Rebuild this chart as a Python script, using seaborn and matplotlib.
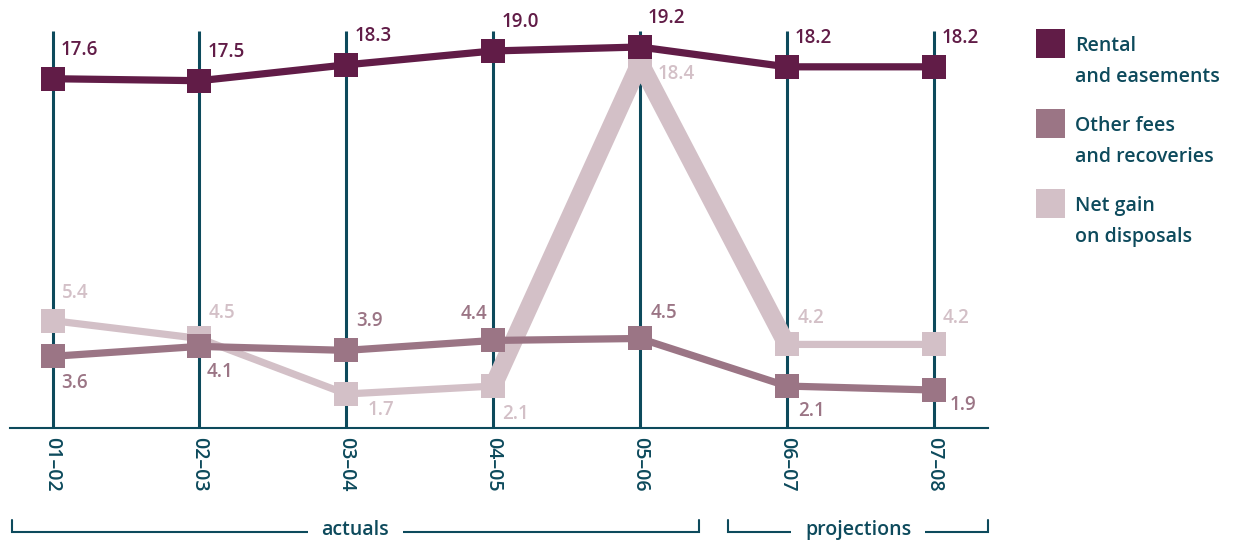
import numpy as np
import pandas as pd
import matplotlib
matplotlib.use("Agg")
import matplotlib.pyplot as plt
import seaborn as sns

# ---- data -------------------------------------------------------------
periods = ["01–02", "02–03", "03–04", "04–05", "05–06", "06–07", "07–08"]
rental = [17.6, 17.5, 18.3, 19.0, 19.2, 18.2, 18.2]
other_fees = [3.6, 4.1, 3.9, 4.4, 4.5, 2.1, 1.9]
net_gain = [5.4, 4.5, 1.7, 2.1, 18.4, 4.2, 4.2]
series_names = ["Rental and easements", "Other fees and recoveries", "Net gain on disposals"]
legend_lines = [("Rental", "and easements"),
                ("Other fees", "and recoveries"),
                ("Net gain", "on disposals")]
groups = ["actuals", "projections"]
group_sizes = [5, 2]

# ---- style ------------------------------------------------------------
colors = ["#611c47", "#9b7585", "#d3c0c7"]
teal = "#0d4a5c"
W, H = 1237, 542
PX = 72 / 100  # pixels -> points

# value-label offsets in pixels (dx, dy upward, horizontal alignment)
label_offsets = [
    [(8, 29, "left")] * 7,
    [(9, -27, "left"), (7, -26, "left"), (10, 29, "left"), (-6, 26, "right"),
     (11, 25, "left"), (11, -25, "left"), (16, -15, "left")],
    [(9, 28, "left"), (9, 25, "left"), (21, -16, "left"), (9, -28, "left"),
     (18, -11, "left"), (11, 26, "left"), (9, 26, "left")],
]

sns.set_theme(style="white")
plt.rcParams["font.family"] = ["Open Sans", "DejaVu Sans"]
plt.rcParams["font.weight"] = "semibold"

values = [rental, other_fees, net_gain]
df = pd.DataFrame({
    "period": periods * 3,
    "value": rental + other_fees + net_gain,
    "series": np.repeat(series_names, len(periods)),
})

fig = plt.figure(figsize=(W / 100, H / 100), dpi=100)
ax = fig.add_axes([10 / W, 114.3 / H, 978 / W, 427.7 / H])

# vertical guides at each period
ax.vlines(periods, 0, 20, color=teal, lw=2.2, zorder=1)

# the jump in disposals is drawn with a heavier stroke
spike = df[(df.series == series_names[2]) & (df.period.isin(periods[3:6]))]
sns.lineplot(data=spike, x="period", y="value", color=colors[2], lw=13,
             sort=False, legend=False, ax=ax, zorder=2,
             solid_joinstyle="round", solid_capstyle="butt")

zorders = [5, 4, 3]
for name, col, z in zip(series_names, colors, zorders):
    sns.lineplot(data=df[df.series == name], x="period", y="value", color=col,
                 lw=5.2, marker="s", markersize=17.5, markeredgewidth=0,
                 sort=False, legend=False, ax=ax, zorder=z)

# value labels
for vals, col, offs in zip(values, colors, label_offsets):
    for j, (v, (dx, dy, ha)) in enumerate(zip(vals, offs)):
        ax.annotate(f"{v:.1f}", xy=(j, v), xytext=(dx * PX, dy * PX),
                    textcoords="offset points", ha=ha, va="center",
                    color=col, fontsize=13.5, fontweight="semibold", zorder=6)

xmin, xmax = -0.29, 6.37
ax.set_xlim(xmin, xmax)
ax.set_ylim(0, 21.57)
ax.set_xticks(range(len(periods)))
ax.set_xticklabels(periods, rotation=270, fontsize=14, color=teal,
                   fontweight="semibold")
ax.tick_params(axis="x", length=0, pad=7)
ax.set_yticks([])
ax.set_xlabel("")
ax.set_ylabel("")
for s in ["left", "top", "right"]:
    ax.spines[s].set_visible(False)
ax.spines["bottom"].set_color(teal)
ax.spines["bottom"].set_linewidth(1.5)

# brackets for actuals / projections
trans = ax.get_xaxis_transform()
y_line, y_tick, y_text = -0.244, -0.216, -0.252
start = 0
n = len(periods)
for g, size in zip(groups, group_sizes):
    a, b = start, start + size - 1
    left = a - 0.4 if a > 0 else xmin + 0.015
    right = b + 0.4 if b < n - 1 else xmax
    ax.plot([left, left, right, right], [y_tick, y_line, y_line, y_tick],
            transform=trans, clip_on=False, color=teal, lw=1.5,
            solid_joinstyle="miter")
    ax.text((left + right) / 2, y_text, g, transform=trans, ha="center",
            va="baseline", color=teal, fontsize=14, fontweight="semibold",
            bbox=dict(boxstyle="square,pad=0.7", fc="white", ec="none"))
    start += size

# legend
for i, ((l1, l2), col) in enumerate(zip(legend_lines, colors)):
    top = 29 + i * 80
    fig.add_artist(plt.Rectangle((1036 / W, 1 - (top + 29) / H), 29 / W, 29 / H,
                                 transform=fig.transFigure, color=col, lw=0))
    fig.text(1075 / W, 1 - (top + 22) / H, l1, color=teal, fontsize=14,
             fontweight="semibold", va="baseline")
    fig.text(1075 / W, 1 - (top + 53) / H, l2, color=teal, fontsize=14,
             fontweight="semibold", va="baseline")

fig.savefig("out.png", dpi=100)
